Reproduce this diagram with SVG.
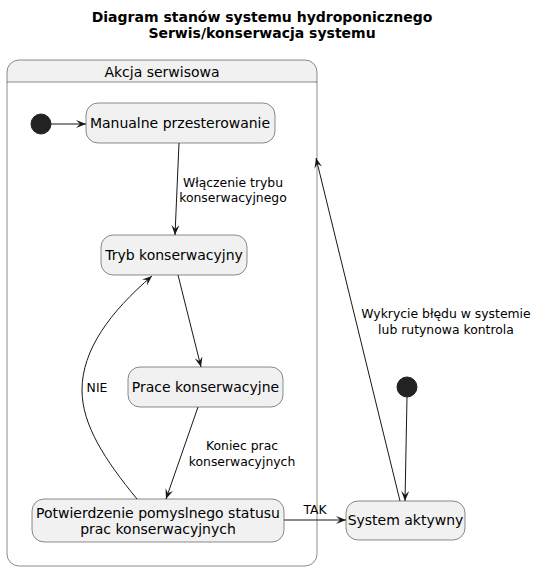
<svg xmlns="http://www.w3.org/2000/svg" width="538" height="571" viewBox="0 0 538 571">
<style>
text{font-family:"DejaVu Sans","Liberation Sans",sans-serif;fill:#000}
.title{font-size:14px;font-weight:bold}
.st{font-size:14px}
.lb{font-size:12.4px}
.box{fill:#F1F1F1;stroke:#181818;stroke-width:0.5}
.edge{fill:none;stroke:#181818;stroke-width:1}
.init{fill:#222222;stroke:#222222}
</style>
<defs>
<marker id="ah" markerWidth="10" markerHeight="8" refX="10" refY="4" orient="auto" markerUnits="userSpaceOnUse">
<path d="M0,0 L10,4 L0,8 L4,4 Z" fill="#181818"/>
</marker>
</defs>
<rect width="538" height="571" fill="#FFFFFF"/>
<g id="title">
<text class="title" x="262" y="22" text-anchor="middle">Diagram stanów systemu hydroponicznego</text>
<text class="title" x="262" y="38" text-anchor="middle">Serwis/konserwacja systemu</text>
</g>
<g id="akcja">
<path d="M19,60 H305 A12,12 0 0 1 317,72 V82 H7 V72 A12,12 0 0 1 19,60 Z" fill="#F1F1F1"/>
<rect x="7" y="60" width="310" height="506" rx="12" ry="12" fill="none" stroke="#181818" stroke-width="0.5"/>
<line x1="7" y1="82" x2="317" y2="82" stroke="#181818" stroke-width="0.5"/>
<text class="st" x="162" y="77" text-anchor="middle">Akcja serwisowa</text>
</g>
<g id="start1"><circle class="init" cx="41" cy="124" r="10"/></g>
<g id="manualne">
<rect class="box" x="86" y="103" width="189" height="40" rx="12" ry="12"/>
<text class="st" x="180" y="128" text-anchor="middle">Manualne przesterowanie</text>
</g>
<g id="tryb">
<rect class="box" x="101" y="235" width="146" height="40" rx="12" ry="12"/>
<text class="st" x="174" y="260" text-anchor="middle">Tryb konserwacyjny</text>
</g>
<g id="prace">
<rect class="box" x="128" y="367" width="155" height="40" rx="12" ry="12"/>
<text class="st" x="205.5" y="392" text-anchor="middle">Prace konserwacyjne</text>
</g>
<g id="potwierdzenie">
<rect class="box" x="32" y="499" width="252" height="43" rx="12" ry="12"/>
<text class="st" x="158" y="518" text-anchor="middle">Potwierdzenie pomyslnego statusu</text>
<text class="st" x="158" y="534" text-anchor="middle">prac konserwacyjnych</text>
</g>
<g id="start2"><circle class="init" cx="407" cy="387" r="10"/></g>
<g id="system">
<rect class="box" x="346" y="501" width="119" height="39" rx="12" ry="12"/>
<text class="st" x="405.5" y="525" text-anchor="middle">System aktywny</text>
</g>
<g id="connectors">
<line class="edge" x1="51" y1="124" x2="86" y2="124" marker-end="url(#ah)"/>
<line class="edge" x1="179" y1="143" x2="175" y2="235" marker-end="url(#ah)"/>
<text class="lb" x="233" y="187" text-anchor="middle">Włączenie trybu</text>
<text class="lb" x="233" y="202" text-anchor="middle">konserwacyjnego</text>
<line class="edge" x1="178" y1="275" x2="201" y2="367" marker-end="url(#ah)"/>
<line class="edge" x1="198" y1="407" x2="166" y2="499" marker-end="url(#ah)"/>
<text class="lb" x="242" y="450" text-anchor="middle">Koniec prac</text>
<text class="lb" x="242" y="466" text-anchor="middle">konserwacyjnych</text>
<path class="edge" d="M137,499 C105,460 82,425 82,390 C82,350 110,312 152,276" marker-end="url(#ah)"/>
<text class="lb" x="97" y="392" text-anchor="middle">NIE</text>
<line class="edge" x1="284" y1="520" x2="346" y2="520" marker-end="url(#ah)"/>
<text class="lb" x="315" y="514" text-anchor="middle">TAK</text>
<line class="edge" x1="407" y1="397" x2="405" y2="501" marker-end="url(#ah)"/>
<line class="edge" x1="400" y1="501" x2="316" y2="158" marker-end="url(#ah)"/>
<text class="lb" x="446" y="318" text-anchor="middle">Wykrycie błędu w systemie</text>
<text class="lb" x="446" y="334" text-anchor="middle">lub rutynowa kontrola</text>
</g>
</svg>
